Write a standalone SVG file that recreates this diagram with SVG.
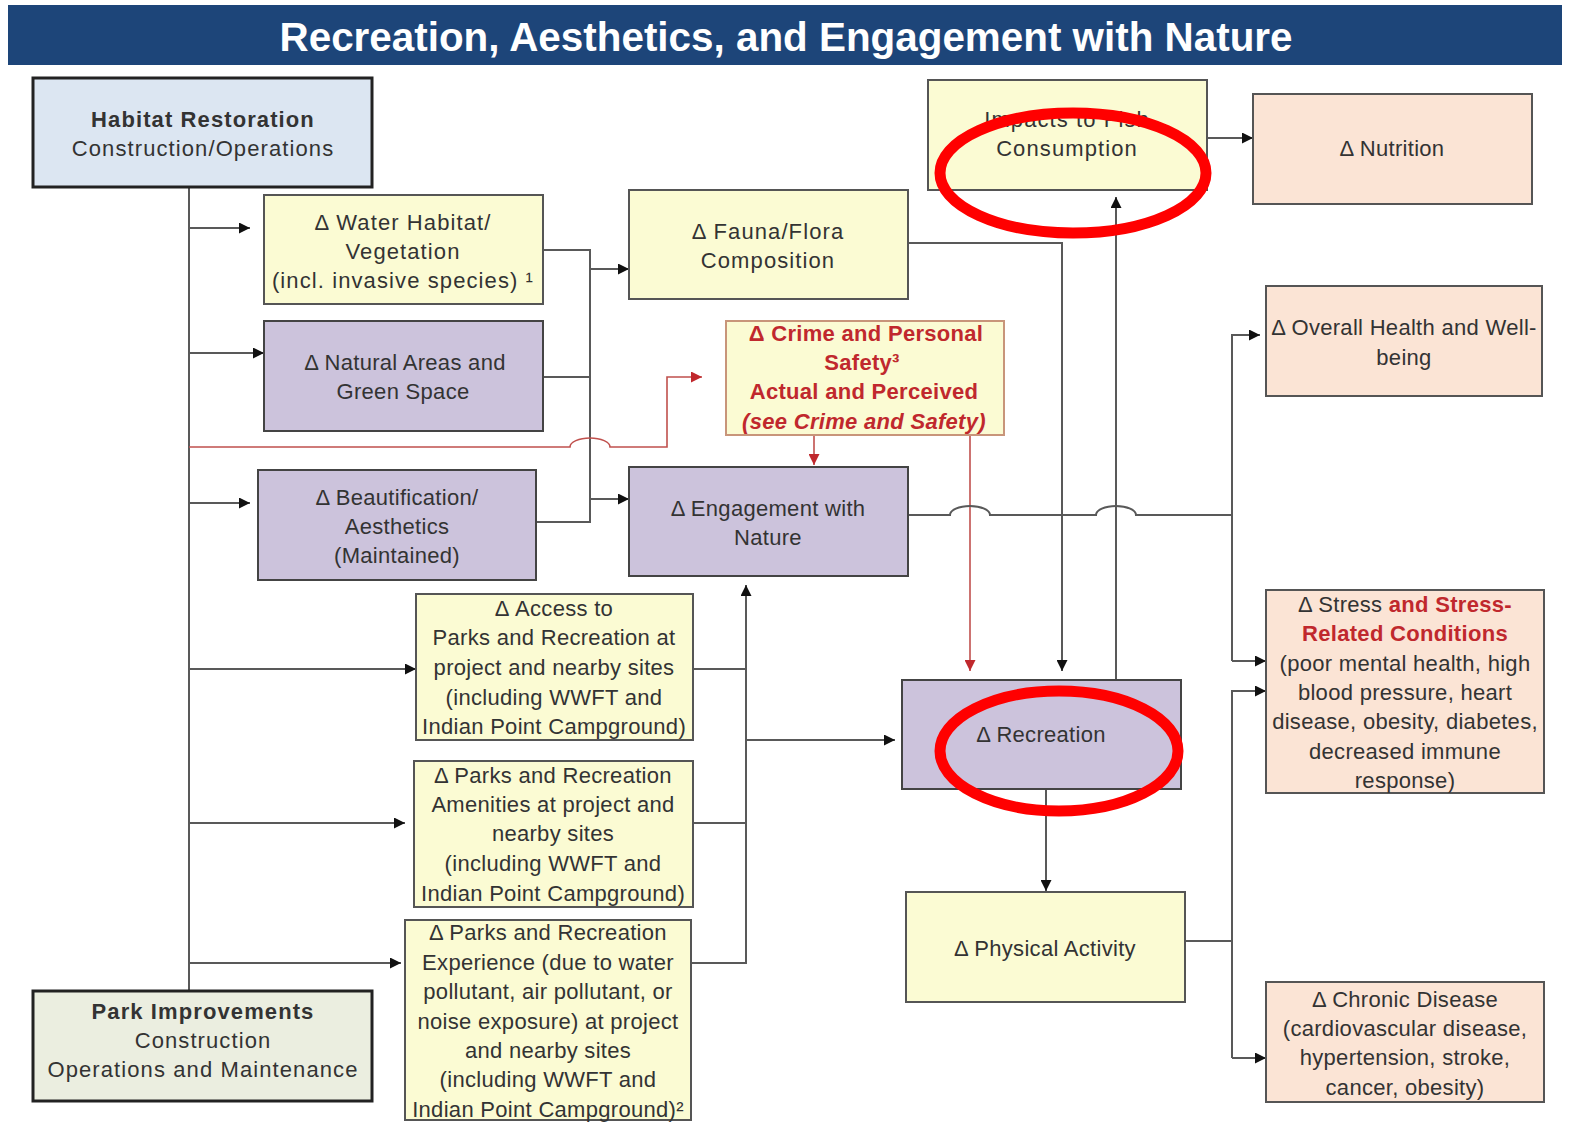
<svg xmlns="http://www.w3.org/2000/svg" width="1570" height="1124" viewBox="0 0 1570 1124">
<style>
.t{font-family:"Liberation Sans",Arial,sans-serif;font-size:22px;letter-spacing:0.3px;fill:#333;text-anchor:middle}
.w{letter-spacing:1.1px}
.b{font-weight:bold}
.r{fill:#c0282d;font-weight:bold}
.yel{fill:#fbfbd3;stroke:#555;stroke-width:2}
.pur{fill:#ccc3dc;stroke:#444;stroke-width:2}
.pch{fill:#fbe4d5;stroke:#555;stroke-width:2}
.src{stroke:#222;stroke-width:3}
.ln{fill:none;stroke:#595959;stroke-width:2}
.ar{marker-end:url(#ah)}
.red{fill:none;stroke:#c0504d;stroke-width:1.6}
.ring{fill:none;stroke:#f00;stroke-width:11}
</style>
<defs>
<marker id="ah" markerUnits="userSpaceOnUse" markerWidth="11" markerHeight="11" refX="11" refY="5.5" orient="auto"><path d="M0,0 L11,5.5 L0,11 z" fill="#111"/></marker>
<marker id="ahr" markerUnits="userSpaceOnUse" markerWidth="11" markerHeight="11" refX="11" refY="5.5" orient="auto"><path d="M0,0 L11,5.5 L0,11 z" fill="#c0282d"/></marker>
</defs>
<rect width="1570" height="1124" fill="#fff"/>
<g id="title">
<rect x="8" y="5" width="1554" height="60" fill="#1d4579"/>
<text x="786" y="51" font-family="Liberation Sans,Arial,sans-serif" font-size="40" font-weight="bold" fill="#fff" text-anchor="middle" textLength="1013" lengthAdjust="spacingAndGlyphs">Recreation, Aesthetics, and Engagement with Nature</text>
</g>
<g id="connectors">
<path class="ln" d="M189,187 V991"/>
<path class="ln ar" d="M189,228 H250"/>
<path class="ln ar" d="M189,353 H264"/>
<path class="ln ar" d="M189,503 H250"/>
<path class="ln ar" d="M189,669 H416"/>
<path class="ln ar" d="M189,823 H405"/>
<path class="ln ar" d="M189,963 H401"/>
<path class="ln" d="M543,250 H590 V522 H536"/>
<path class="ln" d="M543,377 H590"/>
<path class="ln ar" d="M590,269 H629"/>
<path class="ln ar" d="M590,499 H629"/>
<path class="red" d="M189,447 H570 a20,9 0 0 1 40,0 H667 V377 H702" marker-end="url(#ahr)"/>
<path class="red" d="M814,435 V465" marker-end="url(#ahr)"/>
<path class="red" d="M970,435 V671" marker-end="url(#ahr)"/>
<path class="ln ar" d="M908,243 H1062 V671"/>
<path class="ln ar" d="M1116,680 V197"/>
<path class="ln ar" d="M1207,138 H1253"/>
<path class="ln" d="M908,515 H950 a20,9 0 0 1 40,0 H1096 a20,9 0 0 1 40,0 H1232"/>
<path class="ln ar" d="M1232,661 V335 H1260"/>
<path class="ln ar" d="M1232,661 H1266"/>
<path class="ln" d="M693,669 H746"/>
<path class="ln" d="M693,823 H746"/>
<path class="ln ar" d="M691,963 H746 V585"/>
<path class="ln ar" d="M746,740 H895"/>
<path class="ln ar" d="M1046,789 V891"/>
<path class="ln" d="M1185,941 H1232"/>
<path class="ln ar" d="M1232,1058 V691 H1266"/>
<path class="ln ar" d="M1232,1058 H1266"/>
</g>
<g id="habitat-restoration">
<rect class="src" x="33" y="78" width="339" height="109" fill="#dce6f2"/>
<text class="t w b" x="203" y="127">Habitat Restoration</text>
<text class="t w" x="203" y="156">Construction/Operations</text>
</g>
<g id="water-habitat">
<rect class="yel" x="264" y="195" width="279" height="109"/>
<text class="t w" x="403" y="230">Δ Water Habitat/</text>
<text class="t w" x="403" y="259">Vegetation</text>
<text class="t w" x="403" y="288">(incl. invasive species) ¹</text>
</g>
<g id="fauna-flora">
<rect class="yel" x="629" y="190" width="279" height="109"/>
<text class="t w" x="768" y="239">Δ Fauna/Flora</text>
<text class="t w" x="768" y="268">Composition</text>
</g>
<g id="fish-consumption">
<rect class="yel" x="928" y="80" width="279" height="110"/>
<text class="t w" x="1067" y="127">Impacts to Fish</text>
<text class="t w" x="1067" y="156">Consumption</text>
</g>
<g id="nutrition">
<rect class="pch" x="1253" y="94" width="279" height="110"/>
<text class="t" x="1392" y="156">Δ Nutrition</text>
</g>
<g id="natural-areas">
<rect class="pur" x="264" y="321" width="279" height="110"/>
<text class="t" x="405" y="370">Δ  Natural Areas and</text>
<text class="t" x="403" y="399">Green Space</text>
</g>
<g id="crime-safety">
<rect x="726" y="321" width="278" height="114" fill="#fbfbd3" stroke="#c8957a" stroke-width="2"/>
<text class="t r" x="866" y="341">Δ Crime and Personal</text>
<text class="t r" x="862" y="370">Safety³</text>
<text class="t r" x="864" y="399">Actual and Perceived</text>
<text class="t r" x="864" y="429" font-style="italic">(see Crime and Safety)</text>
</g>
<g id="overall-health">
<rect class="pch" x="1266" y="286" width="276" height="110"/>
<text class="t" x="1404" y="335">Δ Overall Health and Well-</text>
<text class="t" x="1404" y="365">being</text>
</g>
<g id="beautification">
<rect class="pur" x="258" y="470" width="278" height="110"/>
<text class="t" x="397" y="505">Δ Beautification/</text>
<text class="t" x="397" y="534">Aesthetics</text>
<text class="t" x="397" y="563">(Maintained)</text>
</g>
<g id="engagement">
<rect class="pur" x="629" y="467" width="279" height="109"/>
<text class="t" x="768" y="516">Δ Engagement with</text>
<text class="t" x="768" y="545">Nature</text>
</g>
<g id="access-parks">
<rect class="yel" x="416" y="594" width="277" height="146"/>
<text class="t" x="554" y="616">Δ Access to</text>
<text class="t" x="554" y="645">Parks and Recreation at</text>
<text class="t" x="554" y="675">project and nearby sites</text>
<text class="t" x="554" y="705">(including WWFT and</text>
<text class="t" x="554" y="734">Indian Point Campground)</text>
</g>
<g id="parks-amenities">
<rect class="yel" x="414" y="761" width="279" height="146"/>
<text class="t" x="553" y="783">Δ Parks and Recreation</text>
<text class="t" x="553" y="812">Amenities at project and</text>
<text class="t" x="553" y="841">nearby sites</text>
<text class="t" x="553" y="871">(including WWFT and</text>
<text class="t" x="553" y="901">Indian Point Campground)</text>
</g>
<g id="parks-experience">
<rect class="yel" x="405" y="920" width="286" height="200"/>
<text class="t" x="548" y="940">Δ Parks and Recreation</text>
<text class="t" x="548" y="970">Experience (due to water</text>
<text class="t" x="548" y="999">pollutant, air pollutant, or</text>
<text class="t" x="548" y="1029">noise exposure) at project</text>
<text class="t" x="548" y="1058">and nearby sites</text>
<text class="t" x="548" y="1087">(including WWFT and</text>
<text class="t" x="548" y="1117">Indian Point Campground)²</text>
</g>
<g id="recreation">
<rect class="pur" x="902" y="680" width="279" height="109"/>
<text class="t" x="1041" y="742">Δ Recreation</text>
</g>
<g id="physical-activity">
<rect class="yel" x="906" y="892" width="279" height="110"/>
<text class="t" x="1045" y="956">Δ Physical Activity</text>
</g>
<g id="stress">
<rect class="pch" x="1266" y="590" width="278" height="203"/>
<text class="t" x="1405" y="612">Δ Stress <tspan class="r">and Stress-</tspan></text>
<text class="t r" x="1405" y="641">Related Conditions</text>
<text class="t" x="1405" y="671">(poor mental health, high</text>
<text class="t" x="1405" y="700">blood pressure, heart</text>
<text class="t" x="1405" y="729">disease, obesity, diabetes,</text>
<text class="t" x="1405" y="759">decreased immune</text>
<text class="t" x="1405" y="788">response)</text>
</g>
<g id="chronic-disease">
<rect class="pch" x="1266" y="982" width="278" height="120"/>
<text class="t" x="1405" y="1007">Δ Chronic Disease</text>
<text class="t" x="1405" y="1036">(cardiovascular disease,</text>
<text class="t" x="1405" y="1065">hypertension, stroke,</text>
<text class="t" x="1405" y="1095">cancer, obesity)</text>
</g>
<g id="park-improvements">
<rect class="src" x="33" y="991" width="339" height="110" fill="#ebeee0"/>
<text class="t w b" x="203" y="1019">Park Improvements</text>
<text class="t w" x="203" y="1048">Construction</text>
<text class="t w" x="203" y="1077">Operations and Maintenance</text>
</g>
<g id="highlights">
<ellipse class="ring" cx="1073" cy="173" rx="133" ry="60"/>
<ellipse class="ring" cx="1059" cy="751" rx="119" ry="60"/>
</g>
</svg>
